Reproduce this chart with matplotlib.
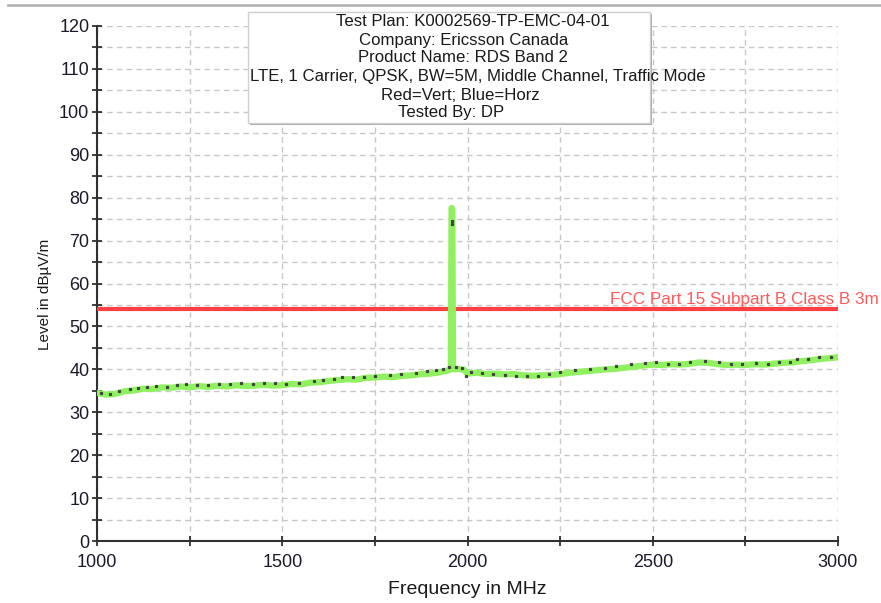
import matplotlib
matplotlib.use("Agg")
import matplotlib.pyplot as plt
from matplotlib.lines import Line2D
from matplotlib.patches import Rectangle
from matplotlib.ticker import MultipleLocator

plt.rcParams["font.family"] = ["Liberation Sans", "DejaVu Sans"]

# --- data ---
trace_freq = [
    1000, 1025, 1050, 1075, 1100, 1125, 1150, 1175, 1200, 1225, 1250, 1275,
    1300, 1325, 1350, 1375, 1400, 1425, 1450, 1475, 1500, 1525, 1550, 1575,
    1600, 1625, 1650, 1675, 1700, 1725, 1750, 1775, 1800, 1825, 1850, 1875,
    1900, 1925, 1940, 1950, 1955, 1957, 1959, 1961, 1965, 1975, 1990, 2000,
    2025, 2050, 2075, 2100, 2125, 2150, 2175, 2200, 2225, 2250, 2275, 2300,
    2325, 2350, 2375, 2400, 2425, 2450, 2475, 2500, 2525, 2550, 2575, 2600,
    2625, 2650, 2675, 2700, 2725, 2750, 2775, 2800, 2825, 2850, 2875, 2900,
    2925, 2950, 2975, 3000,
]
trace_level = [
    34.5, 34.1, 34.3, 34.9, 35.1, 35.5, 35.4, 35.8, 35.7, 36.0, 35.8, 36.1,
    35.9, 36.2, 36.0, 36.3, 36.1, 36.2, 36.4, 36.2, 36.3, 36.6, 36.5, 36.9,
    37.0, 37.3, 37.5, 37.7, 37.6, 38.0, 38.1, 38.3, 38.2, 38.5, 38.6, 38.9,
    39.0, 39.3, 39.6, 39.8, 40.0, 77.6, 77.2, 40.2, 40.0, 40.1, 39.9, 39.0,
    39.2, 38.9, 39.0, 38.8, 38.9, 38.6, 38.5, 38.6, 38.7, 38.9, 39.2, 39.4,
    39.6, 39.8, 40.0, 40.1, 40.4, 40.6, 40.9, 41.1, 41.0, 41.2, 41.1, 41.3,
    41.6, 41.5, 41.2, 41.0, 41.1, 41.0, 41.2, 41.1, 41.3, 41.5, 41.6, 41.9,
    42.1, 42.4, 42.6, 42.8,
]

peak_freq = [
    1010, 1035, 1060, 1090, 1110, 1135, 1160, 1190, 1215, 1240, 1270, 1300,
    1330, 1360, 1390, 1420, 1450, 1480, 1510, 1545, 1585, 1610, 1640, 1660,
    1690, 1720, 1750, 1790, 1820, 1860, 1890, 1915, 1935, 1950, 1958, 1958,
    1970, 1985, 1995, 2010, 2040, 2070, 2100, 2130, 2160, 2190, 2220, 2250,
    2290, 2330, 2370, 2400, 2440, 2480, 2510, 2540, 2570, 2600, 2640, 2680,
    2710, 2740, 2780, 2810, 2840, 2870, 2890, 2920, 2950, 2980,
]
peak_level = [
    34.6, 34.2, 35.0, 35.5, 35.7, 36.0, 36.1, 36.0, 36.4, 36.5, 36.4, 36.3,
    36.5, 36.5, 36.7, 36.6, 36.8, 36.7, 36.6, 36.9, 37.3, 37.5, 37.8, 38.1,
    38.3, 38.1, 38.5, 38.7, 38.8, 39.2, 39.5, 39.9, 40.1, 40.6, 73.8, 74.6,
    40.5, 40.4, 38.4, 39.4, 39.2, 38.9, 38.7, 38.5, 38.5, 38.5, 38.9, 39.3,
    39.9, 40.1, 40.4, 40.7, 41.3, 41.5, 41.6, 41.3, 41.2, 41.6, 42.0, 41.6,
    41.3, 41.3, 41.5, 41.2, 41.7, 41.8, 42.3, 42.5, 42.8, 42.9,
]

limit_freq = [1000, 3000]
limit_level = [54, 54]
limit_label = "FCC Part 15 Subpart B Class B 3m"

info_lines = [
    "Test Plan: K0002569-TP-EMC-04-01",
    "Company: Ericsson Canada",
    "Product Name: RDS Band 2",
    "LTE, 1 Carrier, QPSK, BW=5M, Middle Channel, Traffic Mode",
    "Red=Vert; Blue=Horz",
    "Tested By: DP",
]

W, H = 881, 603
fig = plt.figure(figsize=(W / 100, H / 100), dpi=100)
ax = fig.add_axes([97 / W, 1 - 541 / H, (838 - 97) / W, (541 - 26) / H])

ax.set_xlim(1000, 3000)
ax.set_ylim(0, 120)
ax.xaxis.set_major_locator(MultipleLocator(500))
ax.xaxis.set_minor_locator(MultipleLocator(250))
ax.yaxis.set_major_locator(MultipleLocator(10))
ax.yaxis.set_minor_locator(MultipleLocator(5))

ax.grid(True, which="both", linestyle=(0, (4, 3)), color="#c8c8c8", linewidth=1.0)
ax.set_axisbelow(True)

for s in ("top", "right"):
    ax.spines[s].set_visible(False)
for s in ("left", "bottom"):
    ax.spines[s].set_color("#303030")
    ax.spines[s].set_linewidth(1.5)

ax.tick_params(which="both", direction="inout", color="#202020", width=1.2)
ax.tick_params(which="major", length=7, labelsize=13, labelcolor="#1a1a2a")
ax.tick_params(axis="x", which="major", pad=6)
ax.tick_params(axis="y", which="major", pad=2)
ax.tick_params(which="minor", length=7)

# limit line
ax.plot(limit_freq, limit_level, color="#ff4040", linewidth=3, zorder=3)
lbl_x = 1000 + (610 - 97) / 741 * 2000
ax.text(lbl_x, 54.6, limit_label, color="#ff5a5a", fontsize=12.3,
        ha="left", va="bottom", clip_on=False)

# measured trace
ax.plot(trace_freq, trace_level, color="#8ff060", linewidth=4.5, zorder=4,
        solid_joinstyle="round")
ax.plot(peak_freq, peak_level, linestyle="none", marker="s", markersize=1.3,
        color="#404040", zorder=5)

ax.set_xlabel("Frequency in MHz", fontsize=14, color="#1a1a1a")
ax.xaxis.set_label_coords(0.5, -(581 - 541) / 515)
ax.set_ylabel("Level in dB\u00b5V/m", fontsize=11, color="#1a1a1a")
ax.yaxis.set_label_coords(-(97 - 52) / 741, (541 - 294) / 515)

# top border line of the window
fig.add_artist(Line2D([8 / W, 1.0], [1 - 5 / H, 1 - 5 / H], color="#b4b4b4",
                      linewidth=2, transform=fig.transFigure))

# info box with shadow
bx0, by0, bx1, by1 = 248, 12, 650, 123
fig.add_artist(Rectangle((bx0 / W + 2 / W, 1 - (by1 + 2) / H),
                         (bx1 - bx0) / W, (by1 - by0) / H,
                         transform=fig.transFigure, facecolor="#a8a8a8",
                         edgecolor="none", zorder=8))
fig.add_artist(Rectangle((bx0 / W, 1 - by1 / H), (bx1 - bx0) / W, (by1 - by0) / H,
                         transform=fig.transFigure, facecolor="white",
                         edgecolor="#d0d0d0", linewidth=1, zorder=9))
line_centers = [473, 464, 463, 478, 460, 451]
line_ys = [21, 40, 58, 76, 95, 113]
for txt, cx, cy in zip(info_lines, line_centers, line_ys):
    fig.text(cx / W, 1 - cy / H, txt, ha="center", va="center", fontsize=12.1,
             color="#1a1a1a", zorder=10)

fig.savefig("out.png", dpi=100)
